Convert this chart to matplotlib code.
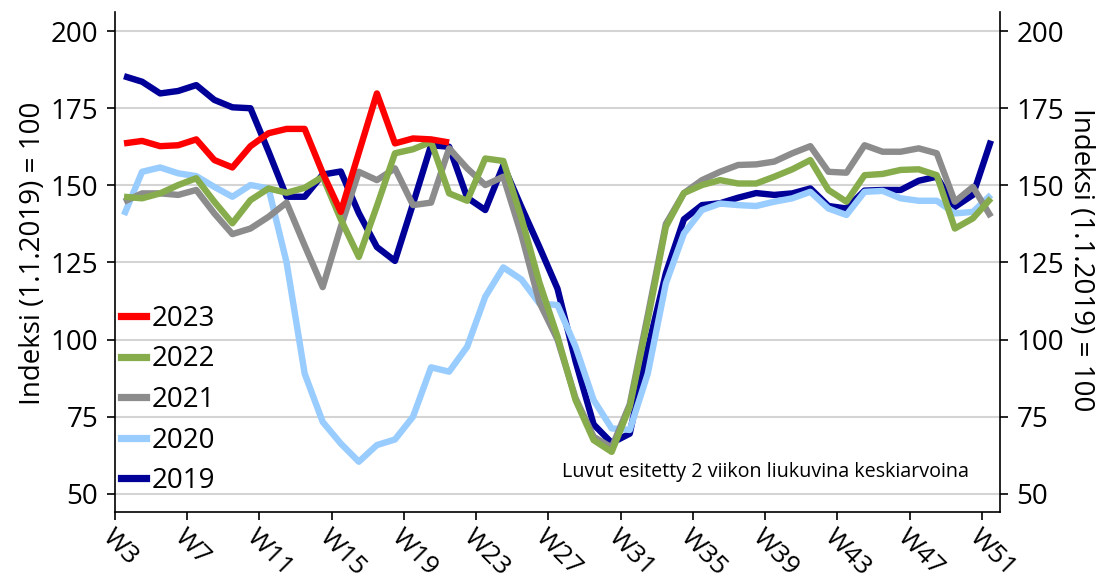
import matplotlib
matplotlib.use("Agg")
import matplotlib.pyplot as plt
from matplotlib.lines import Line2D

plt.rcParams['font.family'] = ['Open Sans', 'DejaVu Sans']

weeks = [f"W{w}" for w in range(3, 52)]
tick_labels = ["W3", "W7", "W11", "W15", "W19", "W23", "W27", "W31", "W35", "W39", "W43", "W47", "W51"]

y2019 = [185.4, 183.6, 179.8, 180.6, 182.5, 177.7, 175.3, 175.0, 161.0, 146.3,
         146.3, 153.5, 154.5, 141.0, 130.0, 125.5, 144.0, 163.0, 162.5, 146.0,
         142.0, 156.5, 143.0, 130.0, 116.5, 93.0, 72.5, 66.5, 69.5, 97.0,
         121.5, 139.0, 143.6, 144.2, 146.0, 147.5, 146.9, 147.4, 149.0, 143.3,
         142.5, 148.3, 148.5, 148.5, 151.5, 152.8, 143.0, 146.9, 164.5]

y2020 = [140.4, 154.4, 155.8, 153.9, 153.0, 149.5, 146.3, 150.1, 149.0, 125.0,
         89.0, 73.3, 66.3, 60.4, 65.8, 67.6, 75.0, 91.0, 89.6, 97.7,
         113.9, 123.4, 119.5, 111.7, 111.2, 97.7, 80.4, 71.2, 70.7, 89.0,
         118.2, 134.4, 142.0, 144.1, 143.6, 143.3, 144.7, 145.8, 147.9, 142.5,
         140.4, 147.9, 148.2, 145.8, 145.0, 145.0, 140.9, 141.4, 146.9]

y2021 = [144.7, 147.4, 147.4, 146.9, 148.5, 140.9, 134.2, 136.0, 139.8, 144.4,
         130.5, 117.0, 136.5, 154.4, 151.7, 155.5, 143.6, 144.4, 162.0, 155.5,
         150.1, 152.8, 134.0, 112.0, 100.0, 81.0, 68.5, 65.0, 79.0, 108.0,
         137.5, 147.5, 151.7, 154.4, 156.6, 156.8, 157.7, 160.4, 162.7, 154.4,
         154.1, 163.0, 160.9, 160.9, 162.0, 160.4, 144.7, 149.5, 139.8]

y2022 = [146.3, 145.8, 147.4, 150.1, 152.3, 144.7, 137.7, 145.2, 149.0, 147.6,
         149.2, 152.8, 139.0, 126.8, 143.3, 160.4, 161.7, 164.1, 147.4, 145.0,
         158.7, 157.9, 139.5, 118.5, 101.0, 80.4, 67.4, 63.6, 78.2, 106.5,
         136.6, 147.5, 150.1, 151.7, 150.6, 150.6, 152.8, 155.2, 158.2, 148.5,
         144.7, 153.3, 153.7, 155.0, 155.2, 153.3, 136.0, 139.3, 145.8]

y2023 = [163.6, 164.4, 162.7, 163.0, 164.9, 158.2, 155.8, 162.7, 166.9, 168.3,
         168.3, 154.0, 141.4, 160.6, 179.8, 163.6, 165.2, 164.9, 163.9]

series_names = ["2019", "2020", "2021", "2022", "2023"]
series_values = [y2019, y2020, y2021, y2022, y2023]
colors = ["#000099", "#99CCFF", "#8C8C8C", "#86AC4B", "#FF0000"]

fig = plt.figure(figsize=(10.97, 5.86), dpi=100)
ax = fig.add_axes([115/1097, 74/586, 885/1097, 500/586])

lw = 4.6
for i, (name, vals, c) in enumerate(zip(series_names, series_values, colors)):
    ax.plot(range(len(vals)), vals, color=c, lw=lw, solid_joinstyle='round',
            solid_capstyle='butt', zorder=3 + i)

ax.set_xlim(-0.5, 48.5)
ax.set_ylim(44.1, 206.2)
ax.set_yticks([50, 75, 100, 125, 150, 175, 200])
ax.yaxis.grid(True, color='#D4D4D4', lw=1.5, zorder=0)
ax.set_axisbelow(True)

ax.set_xticks([i * 4 - 0.5 for i in range(len(tick_labels))])
ax.set_xticklabels(tick_labels, rotation=-45, ha='left', va='top',
                   rotation_mode='anchor', fontsize=19)

for s in ['left', 'right', 'bottom']:
    ax.spines[s].set_color('black')
    ax.spines[s].set_linewidth(1.2)
ax.spines['top'].set_visible(False)

ax.tick_params(axis='y', which='both', direction='out', length=6, width=1.2,
               left=True, right=True, labelleft=True, labelright=True,
               labelsize=20, pad=6)
ax.tick_params(axis='x', direction='out', length=6, width=1.2, pad=3)

fig.text(33/1097, 1 - 253/586, "Indeksi (1.1.2019) = 100", rotation=90,
         ha='center', va='center', fontsize=20)
fig.text(1081/1097, 1 - 260/586, "Indeksi (1.1.2019) = 100", rotation=-90,
         ha='center', va='center', fontsize=20)

ax.text(0.7345, 0.08, "Luvut esitetty 2 viikon liukuvina keskiarvoina",
        transform=ax.transAxes, ha='center', va='center', fontsize=14.2)

handles = [Line2D([0], [0], color=c, lw=5.2) for c in colors][::-1]
labels = series_names[::-1]
ax.legend(handles, labels, loc='upper left', bbox_to_anchor=(121/1097, 1 - 305/586),
          bbox_transform=fig.transFigure, frameon=False, handlelength=0.9,
          handletextpad=0.22, labelspacing=0.45, borderpad=0, borderaxespad=0,
          fontsize=20)

fig.savefig("out.png", dpi=100)
